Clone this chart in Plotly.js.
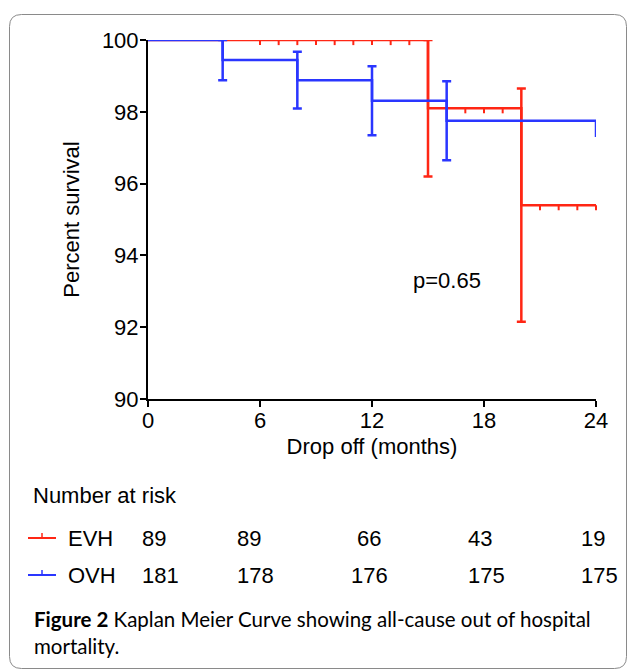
<!DOCTYPE html>
<html>
<head>
<meta charset="utf-8">
<script src="https://cdn.plot.ly/plotly-3.0.1.min.js"></script>
<style>
  html, body { margin: 0; padding: 0; background: #fff; }
  #chart { width: 629px; height: 670px; }
</style>
</head>
<body>
<div id="chart"></div>
<script>
// ---------- data ----------
const xTicks = [0, 6, 12, 18, 24];
const yTicks = [90, 92, 94, 96, 98, 100];

// Kaplan-Meier step curves (time in months, percent survival)
const evhTime = [0, 15, 20, 24];
const evhSurv = [100, 98.1, 95.4, 95.4];
const ovhTime = [0, 4, 8, 12, 16, 24, 24];
const ovhSurv = [100, 99.44, 98.88, 98.31, 97.75, 97.75, 97.3];

// error bars at event times
const evhErrTime = [15, 20];
const evhErrSurv = [98.1, 95.4];
const evhErrHalf = [1.9, 3.25];
const ovhErrTime = [4, 8, 12, 16];
const ovhErrSurv = [99.44, 98.88, 98.31, 97.75];
const ovhErrHalf = [0.56, 0.79, 0.96, 1.1];

// censored observations (EVH)
const evhCensorTime = [6, 7, 8, 9, 10, 11, 12, 13, 14, 17, 18, 19, 21, 22, 23, 24];
const evhCensorSurv = [100, 100, 100, 100, 100, 100, 100, 100, 100, 98.1, 98.1, 98.1, 95.4, 95.4, 95.4, 95.4];

// number at risk table
const riskTimes = [0, 6, 12, 18, 24];
const groupNames = ['EVH', 'OVH'];
const evhRisk = [89, 89, 66, 43, 19];
const ovhRisk = [181, 178, 176, 175, 175];

const pLabel = 'p=0.65';
const captionBold = 'Figure 2';
const captionText = ' Kaplan Meier Curve showing all-cause out of hospital';
const captionLine2 = 'mortality';

// ---------- styles / geometry ----------
const RED = '#ff2614';
const BLUE = '#2a36ff';
const W = 629, H = 670;
const M = { l: 148, r: 33, t: 40, b: 271 };
const plotW = W - M.l - M.r, plotH = H - M.t - M.b;
const PX = x => (x - M.l) / plotW;           // page px -> paper x
const PY = y => (H - M.b - y) / plotH;       // page px -> paper y
const FONT = 'Liberation Sans, Arial, sans-serif';
const CAPFONT = 'Lato, Noto Sans, sans-serif';

const traces = [
  { x: evhTime, y: evhSurv, type: 'scatter', mode: 'lines', line: { shape: 'hv', color: RED, width: 2.5 }, cliponaxis: false, hoverinfo: 'skip' },
  { x: evhErrTime, y: evhErrSurv, type: 'scatter', mode: 'markers', marker: { size: 1, color: RED, opacity: 0 }, cliponaxis: false,
    error_y: { type: 'data', array: evhErrHalf, visible: true, color: RED, thickness: 2.5, width: 4.5 }, hoverinfo: 'skip' },
  { x: evhCensorTime, y: evhCensorSurv, type: 'scatter', mode: 'markers', cliponaxis: false,
    marker: { symbol: 'line-ns-open', size: 3.6, angle: 0, standoff: 2.6, color: RED, line: { color: RED, width: 2 } }, hoverinfo: 'skip' },
  { x: ovhTime, y: ovhSurv, type: 'scatter', mode: 'lines', line: { shape: 'hv', color: BLUE, width: 2.5 }, cliponaxis: false, hoverinfo: 'skip' },
  { x: ovhErrTime, y: ovhErrSurv, type: 'scatter', mode: 'markers', marker: { size: 1, color: BLUE, opacity: 0 }, cliponaxis: false,
    error_y: { type: 'data', array: ovhErrHalf, visible: true, color: BLUE, thickness: 2.5, width: 4.5 }, hoverinfo: 'skip' }
];

// ---------- annotations ----------
const annotations = [];
annotations.push({ xref: 'x', yref: 'y', x: 16, y: 93.3, text: pLabel, showarrow: false, font: { family: FONT, size: 22, color: '#000' } });
annotations.push({ xref: 'paper', yref: 'paper', x: PX(31), y: PY(495), xanchor: 'left', yanchor: 'middle', text: 'Number at risk', showarrow: false, font: { family: FONT, size: 22, color: '#000' } });

const rowY = [538, 575];
const rowColor = [RED, BLUE];
const rowVals = [evhRisk, ovhRisk];
const colAnchor = ['left', 'left', 'center', 'left', 'left'];
const colShift = [-8, -25, -3, -18, -17];
const shapes = [];
groupNames.forEach((g, r) => {
  annotations.push({ xref: 'paper', yref: 'paper', x: PX(66), y: PY(rowY[r]), xanchor: 'left', yanchor: 'middle', text: g, showarrow: false, font: { family: FONT, size: 22, color: '#000' } });
  rowVals[r].forEach((v, c) => {
    annotations.push({ xref: 'x', yref: 'paper', x: riskTimes[c], y: PY(rowY[r]), xanchor: colAnchor[c], xshift: colShift[c], yanchor: 'middle', text: String(v), showarrow: false, font: { family: FONT, size: 22, color: '#000' } });
  });
  shapes.push({ type: 'line', xref: 'paper', yref: 'paper', x0: PX(28), x1: PX(56), y0: PY(rowY[r]), y1: PY(rowY[r]), line: { color: rowColor[r], width: 2 } });
  shapes.push({ type: 'line', xref: 'paper', yref: 'paper', x0: PX(42), x1: PX(42), y0: PY(rowY[r]), y1: PY(rowY[r] - 5), line: { color: rowColor[r], width: 1.5 } });
});

annotations.push({ xref: 'paper', yref: 'paper', x: PX(32), y: PY(605), xanchor: 'left', yanchor: 'top', align: 'left', showarrow: false,
  text: '<b>' + captionBold + '</b>' + captionText + '<br>' + captionLine2 + '.',
  font: { family: CAPFONT, size: 20.5, color: '#000' } });

// rounded frame
(function () {
  const l = 9.5, t = 14.5, rt = 626.5, b = 668.5, rad = 12;
  const X = PX, Y = PY;
  const path = `M ${X(l)},${Y(t + rad)} Q ${X(l)},${Y(t)} ${X(l + rad)},${Y(t)} L ${X(rt - rad)},${Y(t)} Q ${X(rt)},${Y(t)} ${X(rt)},${Y(t + rad)} ` +
    `L ${X(rt)},${Y(b - rad)} Q ${X(rt)},${Y(b)} ${X(rt - rad)},${Y(b)} L ${X(l + rad)},${Y(b)} Q ${X(l)},${Y(b)} ${X(l)},${Y(b - rad)} Z`;
  shapes.push({ type: 'path', xref: 'paper', yref: 'paper', path: path, line: { color: '#8a8a8a', width: 1 }, layer: 'below' });
})();

const layout = {
  width: W, height: H,
  margin: M,
  paper_bgcolor: '#fff', plot_bgcolor: '#fff',
  showlegend: false,
  font: { family: FONT, size: 22, color: '#000' },
  xaxis: {
    range: [0, 24], tickvals: xTicks, ticktext: xTicks.map(String),
    showline: true, linecolor: '#000', linewidth: 2,
    ticks: 'outside', ticklen: 6, tickwidth: 2, tickcolor: '#000',
    ticklabelstandoff: -5,
    showgrid: false, zeroline: false, fixedrange: true,
    tickfont: { family: FONT, size: 22, color: '#000' },
    title: { text: 'Drop off (months)', font: { family: FONT, size: 22, color: '#000' }, standoff: 6 }
  },
  yaxis: {
    range: [90, 100], tickvals: yTicks, ticktext: yTicks.map(String),
    showline: true, linecolor: '#000', linewidth: 2,
    ticks: 'outside', ticklen: 6, tickwidth: 2, tickcolor: '#000',
    ticklabelstandoff: -3,
    showgrid: false, zeroline: false, fixedrange: true,
    tickfont: { family: FONT, size: 22, color: '#000' },
    title: { text: 'Percent survival', font: { family: FONT, size: 22, color: '#000' }, standoff: 16 }
  },
  annotations: annotations,
  shapes: shapes
};

Plotly.newPlot('chart', traces, layout, { staticPlot: true, displayModeBar: false });
</script>
</body>
</html>
